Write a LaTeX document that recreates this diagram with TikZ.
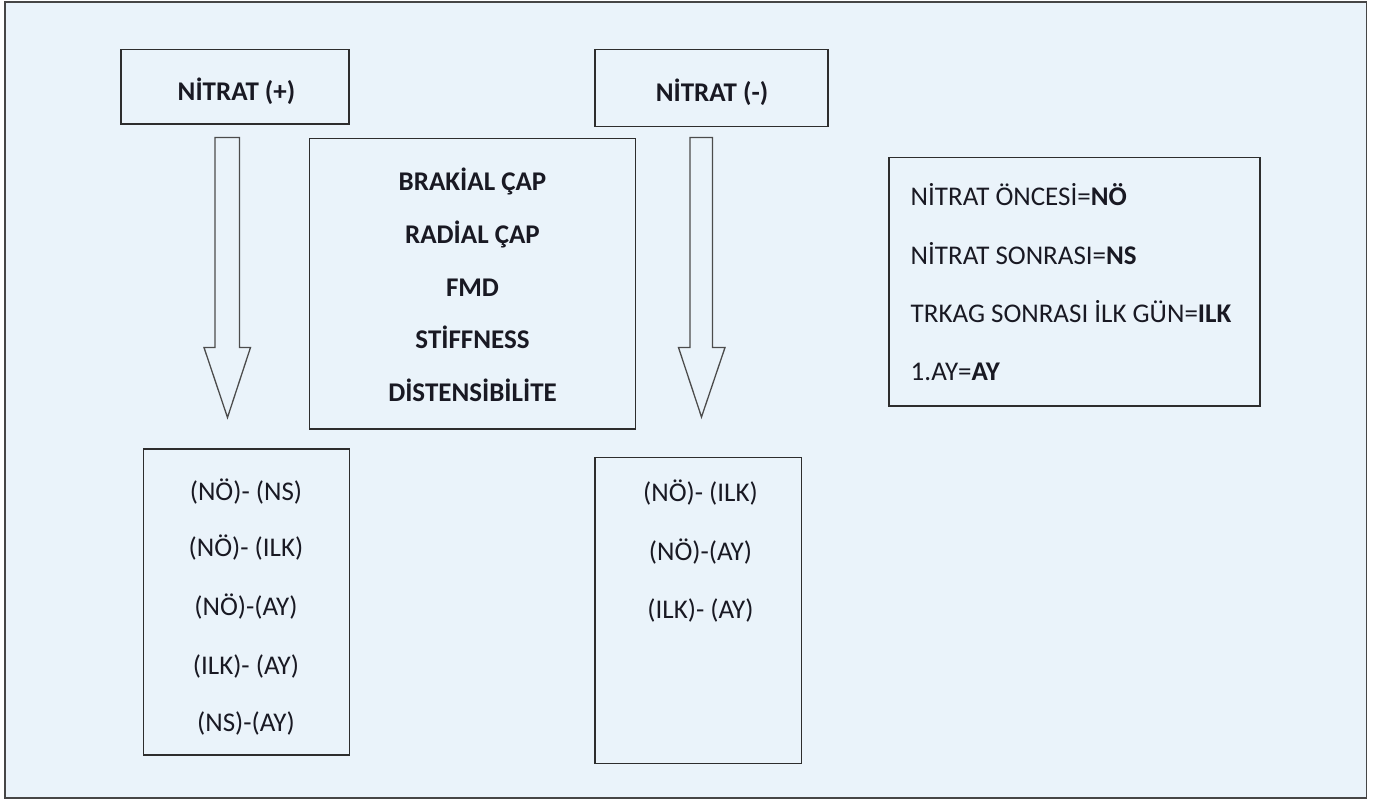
\documentclass[tikz,border=0pt]{standalone}
\usepackage{fontspec}
\setmainfont{Carlito}
\definecolor{bgblue}{RGB}{234,243,250}
\definecolor{frame}{RGB}{70,70,70}
\definecolor{boxline}{RGB}{45,45,45}
\definecolor{txt}{RGB}{25,25,35}
\begin{document}
\begin{tikzpicture}[x=1pt,y=-1pt,
  box/.style={draw=boxline,line width=1.5pt},
  blockarrow/.style={draw=boxline!85,line width=1.3pt,line join=miter},
  lbl/.style={inner sep=0pt,anchor=base,text=txt,font=\fontsize{27}{31}\selectfont},
  lbll/.style={lbl,anchor=base west}]
\useasboundingbox (0,0) rectangle (1373,801);
\fill[white] (0,0) rectangle (1373,801);
\draw[fill=bgblue,draw=frame,line width=1.6pt] (5,2) rectangle (1366.5,798);

% boxes
\draw[box] (121,49.5) rectangle (349,124);
\draw[box] (595,49.5) rectangle (828,126.5);
\draw[box] (309.5,138.5) rectangle (635.5,429);
\draw[box] (889,157.5) rectangle (1260,406);
\draw[box] (143.5,449) rectangle (349.5,755);
\draw[box] (595,457.5) rectangle (801.5,763.5);

% titles
\node[lbl] (tplus) at (236.5,100.5) {\textbf{NİTRAT (+)}};
\node[lbl] (tminus) at (712,101.5) {\textbf{NİTRAT (-)}};

% middle parameters
\node[lbl] (p1) at (472.5,190) {\textbf{BRAKİAL ÇAP}};
\node[lbl] (p2) at (472.5,243) {\textbf{RADİAL ÇAP}};
\node[lbl] (p3) at (472.5,296) {\textbf{FMD}};
\node[lbl] (p4) at (472.5,348.5) {\textbf{STİFFNESS}};
\node[lbl] (p5) at (472.5,401) {\textbf{DİSTENSİBİLİTE}};

% legend
\node[lbll] (l1) at (910.5,205) {NİTRAT ÖNCESİ=\textbf{NÖ}};
\node[lbll] (l2) at (910.5,264) {NİTRAT SONRASI=\textbf{NS}};
\node[lbll] (l3) at (910.5,322.5) {TRKAG SONRASI İLK GÜN=\textbf{ILK}};
\node[lbll] (l4) at (910.5,380) {1.AY=\textbf{AY}};

% left results
\node[lbl] (a1) at (246,500) {(NÖ)- (NS)};
\node[lbl] (a2) at (246,556.5) {(NÖ)- (ILK)};
\node[lbl] (a3) at (246,615) {(NÖ)-(AY)};
\node[lbl] (a4) at (246,674) {(ILK)- (AY)};
\node[lbl] (a5) at (246,731.5) {(NS)-(AY)};

% right results
\node[lbl] (b1) at (700.5,501.5) {(NÖ)- (ILK)};
\node[lbl] (b2) at (700.5,560) {(NÖ)-(AY)};
\node[lbl] (b3) at (700.5,618) {(ILK)- (AY)};

% block arrows
\draw[blockarrow] (215,137.5) -- (239.5,137.5) -- (239.5,347.5) -- (250.5,347.5)
  -- (227.5,417.5) -- (204,347.5) -- (215,347.5) -- cycle;
\draw[blockarrow] (690,137.5) -- (712.5,137.5) -- (712.5,347.5) -- (725,347.5)
  -- (701.5,417) -- (678.5,347.5) -- (690,347.5) -- cycle;
\end{tikzpicture}
\end{document}
